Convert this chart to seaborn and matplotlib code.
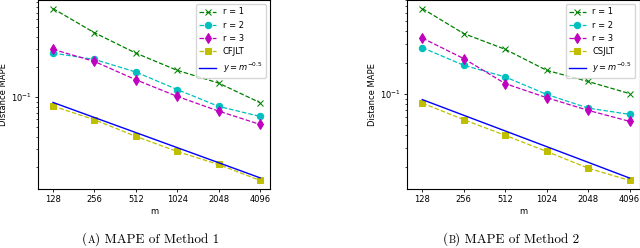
import numpy as np
import pandas as pd
import seaborn as sns
import matplotlib.pyplot as plt
from matplotlib.ticker import NullLocator, NullFormatter

# values
m_vals = [128, 256, 512, 1024, 2048, 4096]
m_labels = ['128', '256', '512', '1024', '2048', '4096']

# Method 1
m1_r1 = [0.766, 0.440, 0.275, 0.185, 0.138, 0.088]
m1_r2 = [0.275, 0.238, 0.178, 0.119, 0.0807, 0.0641]
m1_r3 = [0.300, 0.227, 0.149, 0.1016, 0.0724, 0.0533]
m1_jlt = [0.0813, 0.0594, 0.0405, 0.0286, 0.0212, 0.0147]

# Method 2
m2_r1 = [0.662, 0.381, 0.269, 0.169, 0.132, 0.101]
m2_r2 = [0.279, 0.189, 0.146, 0.0993, 0.0733, 0.0638]
m2_r3 = [0.345, 0.219, 0.126, 0.0923, 0.0697, 0.0547]
m2_jlt = [0.0819, 0.0567, 0.0401, 0.0281, 0.0194, 0.0148]

# reference line y = m^-0.5
ref_line = [0.0884, 0.0625, 0.0442, 0.03125, 0.0221, 0.0156]

plt.rcParams['font.size'] = 6

fig = plt.figure(figsize=(6.4, 2.48), dpi=100)
W, H = 640, 248
ax1 = fig.add_axes([38 / W, 59 / H, 232 / W, 189 / H])
ax2 = fig.add_axes([407.3 / W, 59 / H, 232.2 / W, 189 / H])


def draw_panel(ax, r1, r2, r3, jlt, jlt_name):
    """
    Draw one MAPE panel with seaborn line plots.
    """
    series = [
        (r1, 'r = 1', 'g', 'x', '--'),
        (r2, 'r = 2', 'c', 'o', '--'),
        (r3, 'r = 3', 'm', 'd', '--'),
        (jlt, jlt_name, 'y', 's', '--'),
    ]
    for vals, name, col, mk, ls in series:
        df = pd.DataFrame({'m': m_vals, 'mape': vals})
        sns.lineplot(data=df, x='m', y='mape', ax=ax, color=col, marker=mk,
                     linestyle=ls, linewidth=0.9, markersize=4.6,
                     markeredgecolor=col, label=name)
    df = pd.DataFrame({'m': m_vals, 'mape': ref_line})
    sns.lineplot(data=df, x='m', y='mape', ax=ax, color='b', linewidth=1.0,
                 label=r'$y = m^{-0.5}$')

    ax.set_xscale('log', base=2)
    ax.set_yscale('log')
    ax.set_xlim(99.6, 4840)
    ax.set_xticks(m_vals)
    ax.set_xticklabels(m_labels)
    ax.xaxis.set_minor_locator(NullLocator())
    ax.yaxis.set_minor_formatter(NullFormatter())
    ax.tick_params(which='major', length=2.5, width=0.6, labelsize=6, pad=2)
    ax.tick_params(which='minor', length=1.5, width=0.5)
    for sp in ax.spines.values():
        sp.set_linewidth(0.8)
    ax.set_xlabel('m', fontsize=6, labelpad=2)
    ax.set_ylabel('Distance MAPE', fontsize=6, labelpad=2)
    ax.legend(loc='upper right', fontsize=6, handlelength=2.0,
              borderaxespad=0.5, labelspacing=0.5)


draw_panel(ax1, m1_r1, m1_r2, m1_r3, m1_jlt, 'CFJLT')
draw_panel(ax2, m2_r1, m2_r2, m2_r3, m2_jlt, 'CSJLT')


def caption(xc, letter, rest):
    """
    Caption with a small-caps letter, centred at pixel xc.
    """
    renderer = fig.canvas.get_renderer()
    parts = [('(', 9.5), (letter, 7.3), (') ' + rest, 9.5)]
    texts = [fig.text(0, 5 / H, s, fontsize=fs, family='cmr10', va='baseline')
             for s, fs in parts]
    widths = [t.get_window_extent(renderer).width for t in texts]
    x = xc - sum(widths) / 2
    for t, w in zip(texts, widths):
        t.set_x(x / W)
        x += w


caption(150.7, 'A', 'MAPE of Method 1')
caption(511.3, 'B', 'MAPE of Method 2')

fig.savefig('out.png', dpi=100)
